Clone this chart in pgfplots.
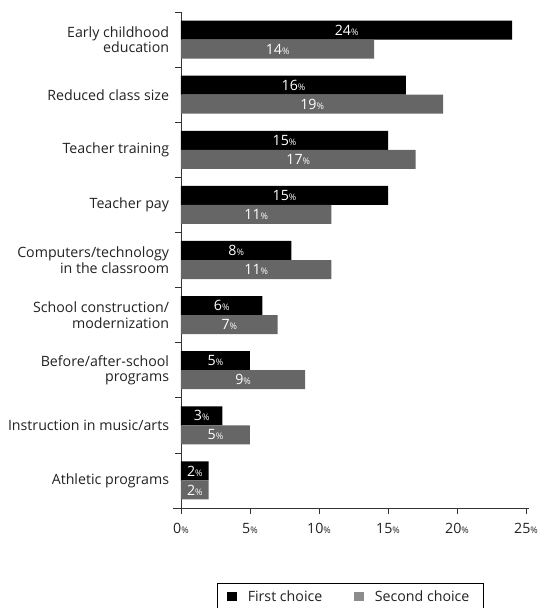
\documentclass[border=0pt]{standalone}
\usepackage{fontspec}
\setmainfont{Open Sans}
\usepackage{pgfplots}
\pgfplotsset{compat=1.18}
\usepackage{pgfplotstable}
\definecolor{secondc}{HTML}{666666}
\definecolor{secondleg}{HTML}{8C8C8C}
\definecolor{txt}{HTML}{222222}
\newcommand\pct{{\fontsize{9}{9}\selectfont\%}}
\newcommand\mainfont{\fontsize{14.2}{15.5}\selectfont}
\pgfplotstableread{
idx first second
0 24 14
1 16.3 19
2 15 17
3 15 10.9
4 8 10.9
5 5.9 7
6 5 9
7 3 5
8 2 2
}\datatable
\begin{document}
\mainfont
\begin{tikzpicture}[x=1pt,y=1pt]
\path[use as bounding box] (0,0) rectangle (542,608);
\begin{axis}[
  at={(181pt,100pt)}, anchor=south west,
  scale only axis, width=345pt, height=496pt,
  xmin=0, xmax=25, ymin=-0.5, ymax=8.5, y dir=reverse,
  axis lines*=left, axis line style={-, draw=black!80, line width=0.7pt},
  x axis line style={shorten <=-8pt, shorten >=-3pt},
  tick align=outside, major tick length=5pt,
  every tick/.style={draw=black!80, line width=0.7pt},
  xtick={0,5,10,15,20,25},
  xticklabels={0\pct,5\pct,10\pct,15\pct,20\pct,25\pct},
  xticklabel style={text=txt, yshift=-4pt, font=\mainfont},
  ytick={-0.5,0.5,...,8.5}, yticklabels={},
  major tick length=6pt,
  extra y ticks={0,1,2,3,4,5,6,7,8},
  extra y tick labels={Early childhood\\education, Reduced class size, Teacher training, Teacher pay, Computers/technology\\in the classroom, School construction/\\modernization, Before/after-school\\programs, Instruction in music/arts, Athletic programs},
  extra y tick style={major tick length=0pt, yticklabel style={align=right, text=txt, font=\mainfont, xshift=-7pt}},
  /pgf/number format/assume math mode=true,
  legend style={at={(0.1043,-0.1512)}, anchor=north west, draw=black, line width=0.6pt,
    legend columns=2, inner xsep=10pt, inner ysep=5pt, text=txt, font=\mainfont,
    nodes={inner xsep=4pt},
    /tikz/every odd column/.append style={column sep=7pt},
    /tikz/every even column/.append style={column sep=28pt}},
  legend cell align=left,
]
\addplot[xbar, bar width=0.345, bar shift=-0.1725, fill=black, draw=none,
  legend image code/.code={\fill[black] (0pt,-4.5pt) rectangle (9.5pt,5pt);}]
  table[x=first, y=idx]{\datatable};
\addlegendentry{First choice}
\addplot[xbar, bar width=0.345, bar shift=0.1725, fill=secondc, draw=none,
  legend image code/.code={\fill[secondleg] (0pt,-4.5pt) rectangle (9.5pt,5pt);}]
  table[x=second, y=idx]{\datatable};
\addlegendentry{Second choice}
\addplot[draw=none, mark=none, forget plot, point meta=explicit,
  nodes near coords={\pgfmathprintnumber[fixed,precision=0]{\pgfplotspointmeta}\pct},
  nodes near coords style={text=white, anchor=center, font=\mainfont}]
  table[x expr=\thisrow{first}/2, y expr=\thisrow{idx}-0.1725, meta=first]{\datatable};
\addplot[draw=none, mark=none, forget plot, point meta=explicit,
  nodes near coords={\pgfmathprintnumber[fixed,precision=0]{\pgfplotspointmeta}\pct},
  nodes near coords style={text=white, anchor=center, font=\mainfont}]
  table[x expr=\thisrow{second}/2, y expr=\thisrow{idx}+0.1725, meta=second]{\datatable};
\end{axis}
\end{tikzpicture}
\end{document}
